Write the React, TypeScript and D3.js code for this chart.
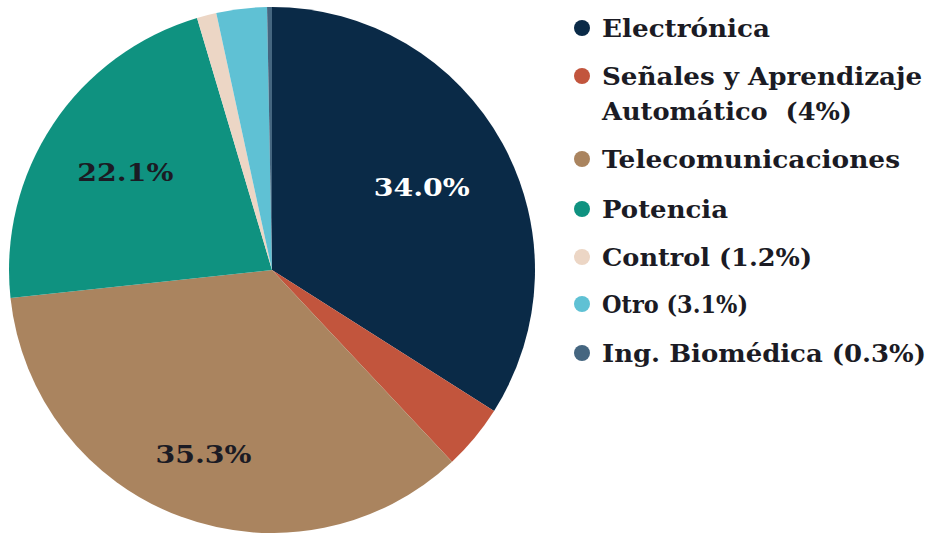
import React from "react";
import * as d3 from "d3";

const categories = [
  "Electrónica",
  "Señales y Aprendizaje Automático",
  "Telecomunicaciones",
  "Potencia",
  "Control",
  "Otro",
  "Ing. Biomédica",
];
const values = [34.0, 4.0, 35.3, 22.1, 1.2, 3.1, 0.3];
const colors = ["#0a2a47", "#c2553d", "#aa845f", "#0f9280", "#ecd6c5", "#5fc1d4", "#456680"];
const sliceLabels = ["34.0%", "", "35.3%", "22.1%", "", "", ""];
const sliceLabelColors = ["#ffffff", "#1b1b24", "#1b1b24", "#1b1b24", "#1b1b24", "#1b1b24", "#1b1b24"];
const sliceLabelRadius = [0.65, 0.7, 0.75, 0.67, 0.7, 0.7, 0.7];
const legendLines = [
  ["Electrónica"],
  ["Señales y Aprendizaje", "Automático\u00a0\u00a0(4%)"],
  ["Telecomunicaciones"],
  ["Potencia"],
  ["Control (1.2%)"],
  ["Otro (3.1%)"],
  ["Ing. Biomédica (0.3%)"],
];
const legendWidths = [
  [168],
  [320, 250],
  [298],
  [126],
  [210],
  [146],
  [324],
];

export default function App() {
  const W = 930, H = 533;
  const cx = 272, cy = 270, r = 263;
  const pie = d3.pie<number>().sort(null).value((d) => d);
  const arcs = pie(values);
  const arc = d3.arc<d3.PieArcDatum<number>>().innerRadius(0).outerRadius(r);
  const font = "'DejaVu Serif', Georgia, serif";
  const legendY = [28, 76, 159, 209, 257, 304, 353];
  return (
    <svg width={W} height={H} style={{ position: "absolute", left: 0, top: 0, background: "#fff" }}>
      <g transform={`translate(${cx},${cy})`}>
        {arcs.map((a, i) => (
          <path key={i} d={arc(a) || ""} fill={colors[i]} />
        ))}
        {arcs.map((a, i) => {
          if (!sliceLabels[i]) return null;
          const lr = r * sliceLabelRadius[i];
          const c = d3.arc<d3.PieArcDatum<number>>().innerRadius(lr).outerRadius(lr).centroid(a);
          return (
            <text key={i} x={c[0]} y={c[1]} textAnchor="middle" dominantBaseline="central"
              fill={sliceLabelColors[i]} fontFamily={font} fontWeight="bold" fontSize={25}
              textLength={96} lengthAdjust="spacingAndGlyphs">
              {sliceLabels[i]}
            </text>
          );
        })}
      </g>
      <g>
        {categories.map((c, i) => (
          <g key={c}>
            <circle cx={582} cy={legendY[i]} r={8} fill={colors[i]} />
            {legendLines[i].map((line, j) => (
              <text key={j} x={602} y={legendY[i] + j * 35} dominantBaseline="central"
                fontFamily={font} fontWeight="bold" fontSize={24} fill="#1b1b24"
                textLength={legendWidths[i][j]} lengthAdjust="spacingAndGlyphs">
                {line}
              </text>
            ))}
          </g>
        ))}
      </g>
    </svg>
  );
}
